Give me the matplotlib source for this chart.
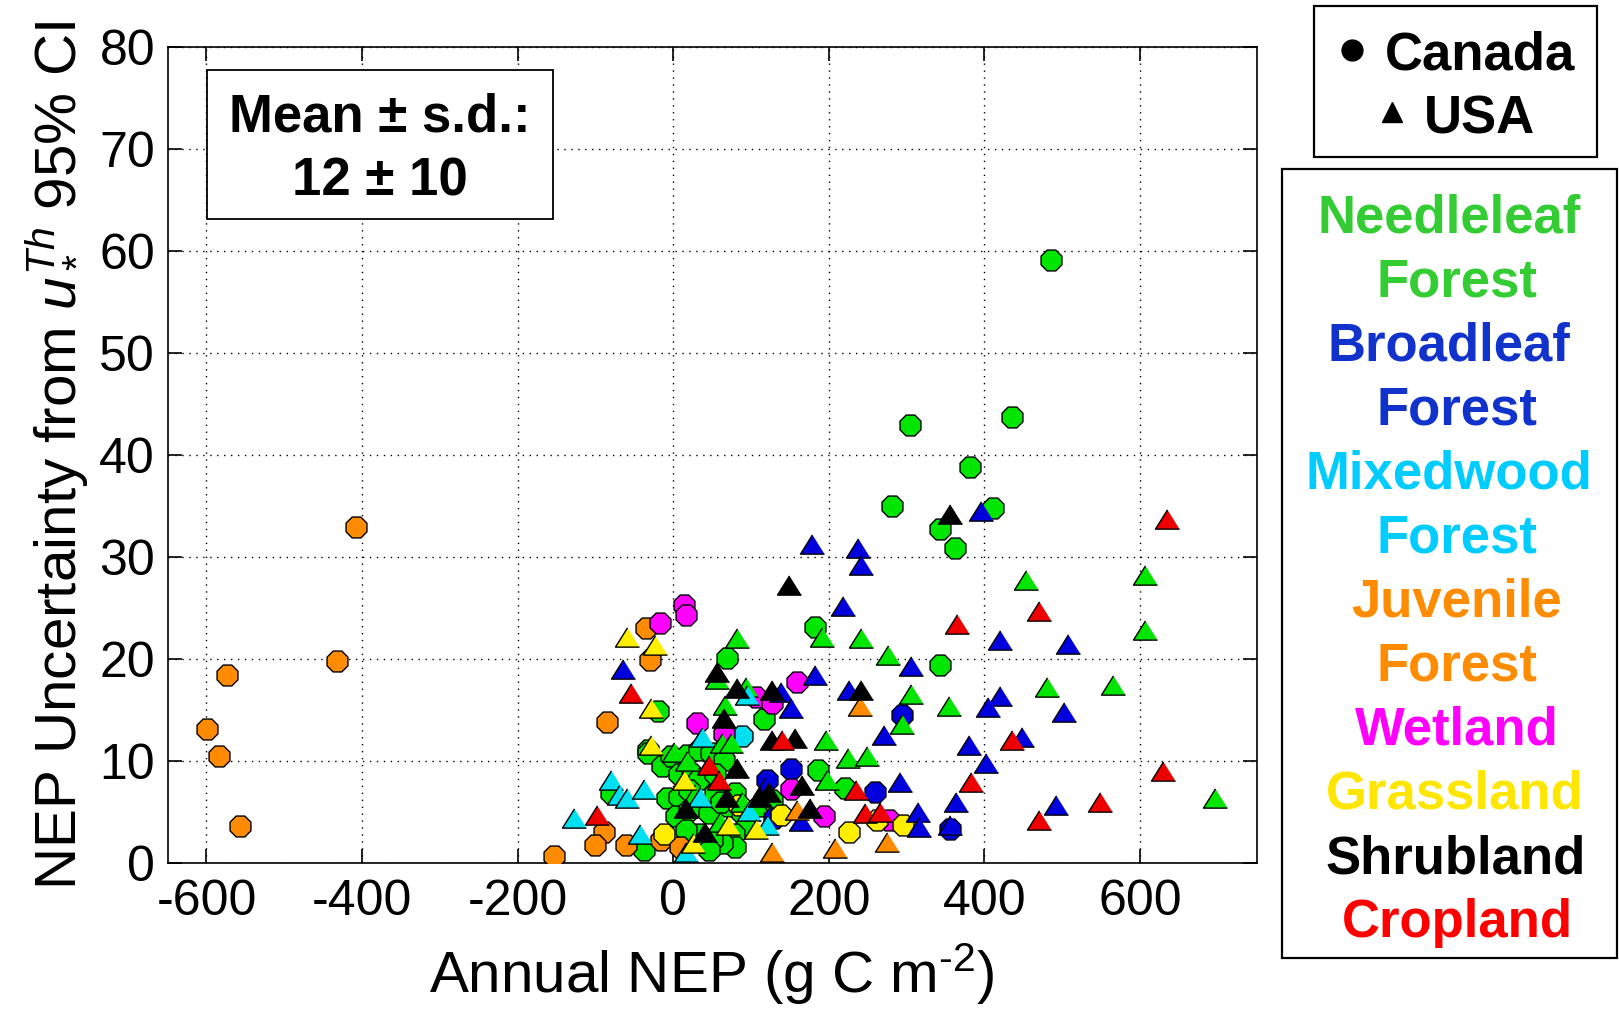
import matplotlib
matplotlib.use('Agg')
import matplotlib.pyplot as plt
from matplotlib.patches import Rectangle

plt.rcParams['font.family'] = ['Liberation Sans', 'DejaVu Sans']
plt.rcParams['mathtext.fontset'] = 'custom'
plt.rcParams['mathtext.rm'] = 'Liberation Sans'
plt.rcParams['mathtext.it'] = 'Liberation Sans:italic'
plt.rcParams['mathtext.bf'] = 'Liberation Sans:bold'
plt.rcParams['axes.unicode_minus'] = False

# ---------------- data (Annual NEP, uncertainty) ----------------
needle_ca_x = [485, 304, 435, 382, 281, 411, 343, 362, 343, 182, 69, 117, 186, 221, -20, -33, -80, -37,
               -33, -14, -3, 18, 33, 48, 65, -8, 7, 3, 20, 37, 46, 54, 71, 80, 88, 93, 78, 80, 63, 50,
               33, 16, 46, 7, 24, 33, 54, 20, 61, 110, 127]
needle_ca_y = [59.1, 43.0, 43.8, 38.9, 35.0, 34.8, 32.8, 30.9, 19.4, 23.2, 20.1, 14.1, 9.1, 7.35, 14.9, 11.1, 6.9, 1.3,
               10.8, 9.5, 10.5, 10.6, 11.1, 10.8, 10.1, 6.4, 6.5, 4.6, 5.2, 5.6, 4.9, 6.9, 5.6, 6.9, 4.9, 3.6, 2.9, 1.6, 2.0, 2.3,
               2.9, 3.3, 1.3, 8.8, 8.8, 8.3, 8.8, 7.2, 6.0, 5.6, 6.2]
needle_us_x = [82, 191, 241, 276, 306, 354, 294, 196, 225, 249, 198, 454, 607, 607, 480, 565, 697, 56, 93, 67,
               63, 74, 1, 18, 88, 60, 28]
needle_us_y = [22.1, 22.2, 22.1, 20.4, 16.6, 15.4, 13.7, 12.1, 10.3, 10.5, 8.2, 27.8, 28.3, 22.9, 17.3, 17.5, 6.4, 18.1, 17.3, 15.5,
               11.8, 11.8, 10.9, 10.0, 6.0, 4.0, 6.8]

broad_ca_x = [151, 121, 129, 260, 294, 356]
broad_ca_y = [9.2, 8.2, 4.4, 7.0, 14.5, 3.4]
broad_us_x = [-65, 182, 138, 152, 164, 226, 218, 238, 242, 178, 396, 306, 420, 508, 420, 405, 502, 271, 380, 448,
              402, 291, 492, 363, 315, 316, 356, 118]
broad_us_y = [19.0, 18.5, 16.8, 15.2, 4.1, 17.0, 25.2, 30.9, 29.2, 31.3, 34.5, 19.3, 21.9, 21.5, 16.4, 15.3, 14.8, 12.6, 11.6, 12.4,
              9.8, 8.0, 5.7, 6.0, 5.0, 3.6, 3.8, 7.5]

mixed_ca_x = [88]
mixed_ca_y = [12.5]
mixed_us_x = [-128, -80, -70, -60, -38, -43, 37, 35, 95, 97, 121, 16]
mixed_us_y = [4.4, 8.2, 6.7, 6.4, 7.3, 2.9, 12.4, 6.5, 16.5, 5.1, 3.8, 1.1]

juv_ca_x = [-408, -432, -574, -599, -584, -557, -153, -35, -30, -85, -89, -100, -61, -16, 9]
juv_ca_y = [33.0, 19.8, 18.5, 13.2, 10.5, 3.7, 0.7, 23.1, 19.9, 13.9, 3.1, 1.8, 1.8, 2.3, 1.6]
juv_us_x = [127, 208, 275, 240, 159]
juv_us_y = [1.1, 1.5, 2.1, 15.4, 5.2]

wet_ca_x = [14, 16, -17, 31, 65, 106, 127, 159, 151, 194, 277]
wet_ca_y = [25.3, 24.3, 23.6, 13.8, 12.7, 16.3, 15.7, 17.8, 7.3, 4.6, 4.2]
wet_us_x = []
wet_us_y = []

grass_ca_x = [-12, 138, 226, 262, 296, 84]
grass_ca_y = [2.9, 4.7, 3.1, 4.2, 3.8, 5.7]
grass_us_x = [-59, -23, -29, -28, 14, 26, 71, 106]
grass_us_y = [22.2, 21.4, 15.2, 11.6, 8.2, 2.0, 3.8, 3.4]

shrub_ca_x = []
shrub_ca_y = []
shrub_us_x = [149, 56, 82, 127, 242, 65, 127, 157, 82, 166, 123, 112, 69, 16, 41, 356, 176]
shrub_us_y = [27.3, 18.8, 17.2, 17.0, 17.0, 14.2, 12.1, 12.3, 9.3, 7.7, 7.0, 6.5, 6.5, 5.4, 3.1, 34.2, 5.4]

crop_ca_x = []
crop_ca_y = []
crop_us_x = [-98, -54, 46, 59, 140, 235, 246, 266, 365, 383, 435, 470, 470, 549, 630, 635]
crop_us_y = [4.7, 16.7, 9.6, 8.2, 12.1, 7.2, 4.9, 5.0, 23.5, 8.0, 12.1, 24.7, 4.2, 6.0, 9.0, 33.8]

legend_labels = ['Needleleaf\nForest', 'Broadleaf\nForest', 'Mixedwood\nForest', 'Juvenile\nForest',
                 'Wetland', 'Grassland', 'Shrubland', 'Cropland']
marker_colors = ['#00E600', '#0000DD', '#00E0F0', '#FF8C00', '#FF00FF', '#FFEE00', '#000000', '#EE0000']
text_colors = ['#33CC33', '#1133CC', '#00CCFF', '#FF8C00', '#FF00FF', '#FFE600', '#000000', '#FF0000']

series = [
    (needle_ca_x, needle_ca_y, needle_us_x, needle_us_y),
    (broad_ca_x, broad_ca_y, broad_us_x, broad_us_y),
    (mixed_ca_x, mixed_ca_y, mixed_us_x, mixed_us_y),
    (juv_ca_x, juv_ca_y, juv_us_x, juv_us_y),
    (wet_ca_x, wet_ca_y, wet_us_x, wet_us_y),
    (grass_ca_x, grass_ca_y, grass_us_x, grass_us_y),
    (shrub_ca_x, shrub_ca_y, shrub_us_x, shrub_us_y),
    (crop_ca_x, crop_ca_y, crop_us_x, crop_us_y),
]

xticks = [-600, -400, -200, 0, 200, 400, 600]
yticks = [0, 10, 20, 30, 40, 50, 60, 70, 80]

tri = [(0, 0.8), (-1, -0.8), (1, -0.8)]

# ---------------- figure ----------------
fig = plt.figure(figsize=(16.19, 10.13), dpi=100)
ax = fig.add_axes([0.1035, 0.1478, 0.6727, 0.8055])

for (cx, cy, ux, uy), col in zip(series, marker_colors):
    if cx:
        ax.scatter(cx, cy, s=265, marker='8', facecolor=col, edgecolor='black', linewidth=1.0, zorder=3)
for (cx, cy, ux, uy), col in zip(series, marker_colors):
    if ux:
        ax.scatter(ux, uy, s=300, marker=tri, facecolor=col, edgecolor='black', linewidth=1.0, zorder=4)

ax.set_xlim(-650, 750)
ax.set_ylim(0, 80)
ax.set_xticks(xticks)
ax.set_yticks(yticks)
ax.grid(True, color='black', linestyle=(0, (1, 4)), linewidth=1.0)
ax.set_axisbelow(True)
ax.tick_params(direction='in', length=10, width=1.2, top=True, right=True, labelsize=36, pad=11)
ax.tick_params(axis='y', pad=9)
for sp in ax.spines.values():
    sp.set_linewidth(1.2)
ax.set_xlabel(r'Annual NEP (g C m$^{\text{-2}}$)', fontsize=42, labelpad=12)
ax.set_ylabel('NEP Uncertainty from $u_*^{Th}$ 95% CI', fontsize=42, labelpad=8)

# ---------------- overlay (pixel coordinates) ----------------
lax = fig.add_axes([0, 0, 1, 1], zorder=10)
lax.set_xlim(0, 1619)
lax.set_ylim(1013, 0)
lax.axis('off')
lax.patch.set_alpha(0)

# Mean box
lax.add_patch(Rectangle((206.5, 70), 346.5, 149, facecolor='white', edgecolor='black', linewidth=1.3))
lax.text(380, 131, 'Mean \u00b1 s.d.:', ha='center', va='baseline', fontsize=38, fontweight='bold')
lax.text(380, 195, '12 \u00b1 10', ha='center', va='baseline', fontsize=38, fontweight='bold')

# legends
lax.add_patch(Rectangle((1314, 6), 283, 151, fill=False, edgecolor='black', linewidth=1.6))
lax.add_patch(Rectangle((1282, 169), 335, 789, fill=False, edgecolor='black', linewidth=1.6))

lax.plot([1352], [49.5], marker='o', markersize=15, color='black', linestyle='none')
lax.plot([1392], [111.5], marker='^', markersize=15, color='black', linestyle='none')
lax.text(1479.5, 69, 'Canada', ha='center', va='baseline', fontsize=38, fontweight='bold')
lax.text(1479.5, 133, 'USA', ha='center', va='baseline', fontsize=38, fontweight='bold')

line_centers_x = [1449, 1457, 1449, 1457, 1449, 1457, 1457, 1457, 1457, 1455, 1456, 1457]
ypos = 232
i = 0
for lab, tc in zip(legend_labels, text_colors):
    for part in lab.split('\n'):
        lax.text(line_centers_x[i], ypos, part, ha='center', va='baseline', fontsize=38,
                 fontweight='bold', color=tc)
        ypos += 64.1
        i += 1

fig.savefig('out.png', dpi=100)
